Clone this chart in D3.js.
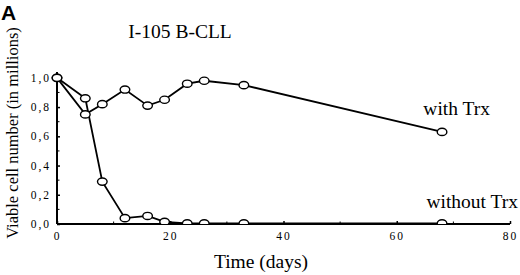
<!DOCTYPE html>
<html>
<head>
<meta charset="utf-8">
<script src="https://cdn.jsdelivr.net/npm/d3@7"></script>
<style>
  body { margin: 0; background: #fff; }
  svg text { font-family: "Liberation Serif", "DejaVu Serif", serif; fill: #000; }
</style>
</head>
<body>
<svg id="chart" width="520" height="275"></svg>
<script>
// values
const withDays = [0, 5, 8, 12, 16, 19, 23, 26, 33, 68];
const withCells = [1.0, 0.75, 0.82, 0.92, 0.81, 0.85, 0.96, 0.98, 0.95, 0.63];
const withoutDays = [0, 5, 8, 12, 16, 19, 23, 26, 33, 68];
const withoutCells = [1.0, 0.86, 0.29, 0.04, 0.055, 0.015, 0.004, 0.004, 0.004, 0.004];
const xTicks = [0, 20, 40, 60, 80];
const xMinor = [10, 30, 50, 70];
const yTicks = [0, 0.2, 0.4, 0.6, 0.8, 1.0];
const yMinor = [0.1, 0.3, 0.5, 0.7, 0.9];

const svg = d3.select("#chart");
const padding = { top: 72, bottom: 51, left: 57, right: 10 };
const width = 520, height = 275;

const xScale = d3.scaleLinear().domain([0, 80]).range([padding.left, width - padding.right]);
const yScale = d3.scaleLinear().domain([0, 1.04]).range([height - padding.bottom, padding.top]);

const fmt = d => d3.format(".1f")(d).replace(".", ",");

// clip the markers at the x axis
svg.append("clipPath").attr("id", "plot-clip")
  .append("rect")
  .attr("x", 0).attr("y", 0)
  .attr("width", width).attr("height", yScale(0));

// x axis
const xAxis = svg.append("g")
  .attr("transform", `translate(0, ${yScale(0)})`)
  .call(d3.axisBottom(xScale).tickValues(xTicks).tickSize(-3).tickFormat(d => d));
xAxis.select(".domain").remove();
xAxis.selectAll(".tick line").attr("stroke-width", 1.5);
xAxis.selectAll(".tick text")
  .attr("y", 8)
  .attr("dy", "0.71em")
  .style("font-size", "11.5px")
  .style("letter-spacing", "2px")
  .attr("font-family", null);
xAxis.selectAll(".minor").data(xMinor).join("line")
  .attr("x1", d => xScale(d)).attr("x2", d => xScale(d))
  .attr("y1", 0).attr("y2", -2.5)
  .attr("stroke", "#000").attr("stroke-width", 1);
xAxis.append("line")
  .attr("x1", xScale(0)).attr("x2", xScale(80))
  .attr("stroke", "#000").attr("stroke-width", 2);

// y axis
const yAxis = svg.append("g")
  .attr("transform", `translate(${padding.left}, 0)`)
  .call(d3.axisLeft(yScale).tickValues(yTicks).tickSize(-3).tickFormat(fmt));
yAxis.select(".domain").remove();
yAxis.selectAll(".tick line").attr("stroke-width", 1.5);
yAxis.selectAll(".tick text")
  .attr("x", -6)
  .style("font-size", "11.5px")
  .style("letter-spacing", "2px")
  .attr("font-family", null);
yAxis.selectAll(".minor").data(yMinor).join("line")
  .attr("y1", d => yScale(d)).attr("y2", d => yScale(d))
  .attr("x1", 0).attr("x2", 2.5)
  .attr("stroke", "#000").attr("stroke-width", 1);
yAxis.append("line")
  .attr("y1", yScale(0)).attr("y2", padding.top)
  .attr("stroke", "#000").attr("stroke-width", 2);

// series
const series = [
  { name: "with", values: withDays.map((d, i) => ({ day: d, cells: withCells[i] })) },
  { name: "without", values: withoutDays.map((d, i) => ({ day: d, cells: withoutCells[i] })) }
];

const lineGenerator = d3.line()
  .x(d => xScale(d.day))
  .y(d => yScale(d.cells));

const plot = svg.append("g").attr("clip-path", "url(#plot-clip)");

plot.selectAll("path.line")
  .data(series)
  .join("path")
  .classed("line", true)
  .attr("fill", "none")
  .attr("stroke", "#000")
  .attr("stroke-width", 1.8)
  .attr("d", d => lineGenerator(d.values));

plot.selectAll("g.markers")
  .data(series)
  .join("g")
  .classed("markers", true)
  .selectAll("ellipse")
  .data(d => d.values)
  .join("ellipse")
  .attr("cx", d => xScale(d.day))
  .attr("cy", d => yScale(d.cells))
  .attr("rx", 4.8)
  .attr("ry", 3.6)
  .attr("fill", "#fff")
  .attr("stroke", "#000")
  .attr("stroke-width", 1.4);

// labels
svg.append("text")
  .attr("x", 1).attr("y", 19.5)
  .style("font-family", "'Liberation Sans', Arial, sans-serif")
  .style("font-weight", "bold")
  .style("font-size", "21px")
  .text("A");

svg.append("text")
  .attr("x", 180).attr("y", 38)
  .attr("text-anchor", "middle")
  .style("font-size", "19.5px")
  .text("I-105 B-CLL");

svg.append("text")
  .attr("x", 490).attr("y", 115)
  .attr("text-anchor", "end")
  .style("font-size", "19.5px")
  .text("with Trx");

svg.append("text")
  .attr("x", 518).attr("y", 208)
  .attr("text-anchor", "end")
  .style("font-size", "19.5px")
  .text("without Trx");

svg.append("text")
  .attr("x", 261).attr("y", 268)
  .attr("text-anchor", "middle")
  .style("font-size", "19.5px")
  .text("Time (days)");

svg.append("text")
  .attr("transform", "translate(18, 133) rotate(-90)")
  .attr("text-anchor", "middle")
  .style("font-size", "16.5px")
  .text("Viable cell number (in millions)");
</script>
</body>
</html>
